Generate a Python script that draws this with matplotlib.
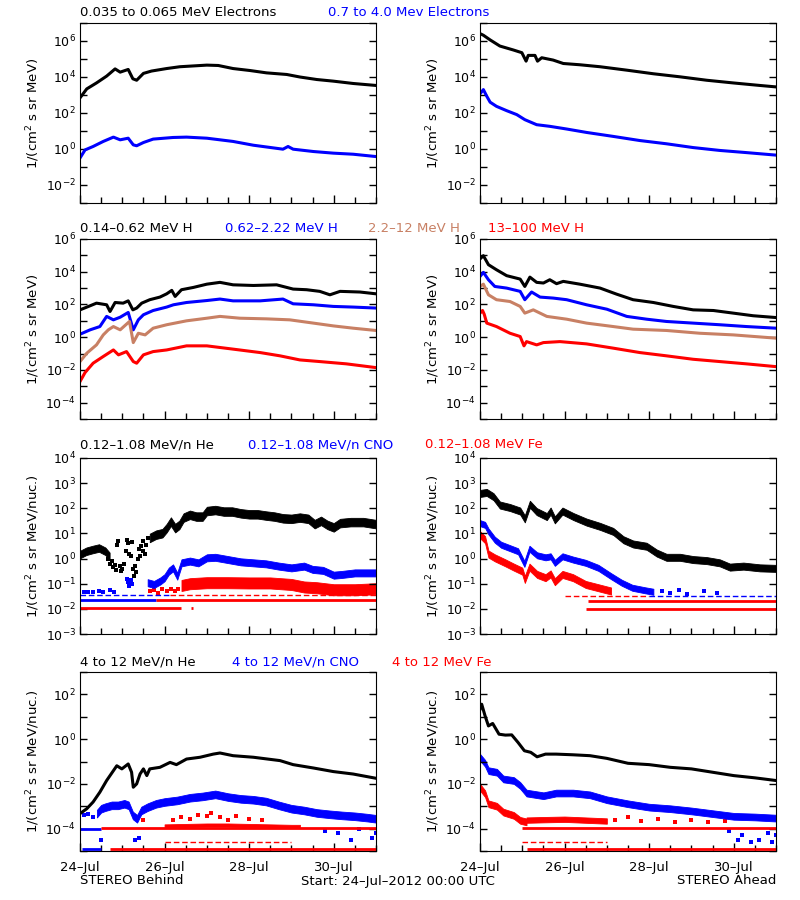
import numpy as np
import matplotlib.pyplot as plt
from matplotlib.ticker import FixedLocator, FuncFormatter, MultipleLocator, NullLocator

BROWN = '#C88064'
BLUE = '#0000FF'
RED = '#FF0000'

# ---------------- data (days since 24-Jul-2012 00:00, log10 intensity) ----------------
# Row 1: electrons
eb_lo_d = [0, 0.16, 0.39, 0.63, 0.83, 0.95, 1.14, 1.25, 1.34, 1.5, 1.69, 2.05, 2.36, 3.0, 3.27,
           3.62, 4.02, 4.41, 4.89, 5.2, 5.6, 5.99, 6.46, 7.0]
eb_lo_v = [2.84, 3.34, 3.67, 4.05, 4.45, 4.27, 4.42, 3.9, 3.82, 4.2, 4.33, 4.47, 4.57, 4.66, 4.64,
           4.47, 4.36, 4.23, 4.14, 4.0, 3.86, 3.77, 3.64, 3.53]
eb_hi_d = [0, 0.12, 0.31, 0.55, 0.79, 0.95, 1.14, 1.26, 1.34, 1.5, 1.73, 2.2, 2.52, 3.0, 3.62,
           4.1, 4.8, 4.92, 5.04, 5.52, 5.99, 6.46, 7.0]
eb_hi_v = [-0.5, -0.05, 0.14, 0.42, 0.66, 0.51, 0.6, 0.23, 0.18, 0.36, 0.55, 0.64, 0.66, 0.6, 0.42,
           0.21, -0.01, 0.14, -0.01, -0.14, -0.23, -0.29, -0.42]
ea_lo_d = [0, 0.08, 0.24, 0.47, 0.79, 0.99, 1.09, 1.14, 1.3, 1.36, 1.46, 1.73, 1.97, 2.36, 2.84,
           3.47, 4.1, 4.73, 5.36, 5.99, 6.62, 7.0]
ea_lo_v = [6.41, 6.32, 6.06, 5.72, 5.5, 5.35, 4.88, 5.2, 5.2, 4.88, 5.07, 4.94, 4.75, 4.68, 4.57,
           4.38, 4.18, 4.01, 3.82, 3.67, 3.53, 3.45]
ea_hi_d = [0, 0.08, 0.16, 0.24, 0.39, 0.63, 0.87, 1.06, 1.34, 1.65, 2.05, 2.52, 3.15, 3.78, 4.41,
           5.04, 5.67, 6.3, 7.0]
ea_hi_v = [3.06, 3.3, 2.93, 2.6, 2.37, 2.13, 1.91, 1.63, 1.35, 1.26, 1.11, 0.92, 0.7, 0.47, 0.29,
           0.08, -0.08, -0.2, -0.34]

# Row 2: protons, Behind
hb1_d = [0, 0.24, 0.39, 0.63, 0.71, 0.83, 1.02, 1.14, 1.25, 1.34, 1.46, 1.65, 1.89, 2.05, 2.17,
         2.25, 2.4, 2.68, 3.0, 3.31, 3.62, 4.1, 4.65, 5.04, 5.36, 5.67, 5.91, 6.15, 6.62, 7.0]
hb1_v = [1.67, 1.92, 2.08, 1.98, 1.57, 2.12, 2.08, 2.22, 1.67, 1.78, 2.08, 2.29, 2.45, 2.65, 2.86,
         2.49, 2.9, 3.04, 3.24, 3.35, 3.2, 3.16, 3.2, 2.94, 2.9, 2.8, 2.59, 2.8, 2.76, 2.65]
hb2_d = [0, 0.24, 0.47, 0.63, 0.79, 0.95, 1.14, 1.26, 1.38, 1.5, 1.73, 2.05, 2.21, 2.52, 3.0,
         3.31, 3.62, 4.26, 4.8, 5.04, 5.52, 5.99, 6.46, 7.0]
hb2_v = [0.18, 0.45, 0.65, 1.27, 1.06, 1.22, 1.51, 0.45, 1.06, 1.37, 1.63, 1.84, 1.98, 2.12, 2.24,
         2.33, 2.22, 2.22, 2.33, 2.04, 1.98, 1.88, 1.84, 1.78]
hb3_d = [0, 0.16, 0.39, 0.55, 0.67, 0.79, 0.95, 1.17, 1.26, 1.38, 1.54, 1.73, 2.05, 2.52, 3.0,
         3.31, 3.78, 4.41, 4.96, 5.52, 5.99, 6.46, 7.0]
hb3_v = [-1.49, -0.98, -0.47, 0.14, 0.45, 0.65, 0.45, 0.96, -0.33, 0.24, 0.14, 0.55, 0.76, 1.0,
         1.16, 1.27, 1.16, 1.12, 1.06, 0.86, 0.69, 0.55, 0.41]
hb4_d = [0, 0.12, 0.31, 0.55, 0.79, 0.91, 1.1, 1.26, 1.34, 1.5, 1.73, 2.05, 2.52, 3.0, 3.62, 4.26,
         4.73, 5.2, 5.67, 6.3, 7.0]
hb4_v = [-2.71, -2.16, -1.59, -1.18, -0.78, -1.08, -0.88, -1.49, -1.59, -1.08, -0.88, -0.78, -0.53,
         -0.53, -0.73, -0.94, -1.14, -1.39, -1.49, -1.63, -1.86]

# Row 2: protons, Ahead
ha1_d = [0, 0.08, 0.2, 0.39, 0.63, 0.95, 1.06, 1.18, 1.34, 1.5, 1.65, 1.81, 1.97, 2.36, 2.84, 3.23,
         3.62, 4.1, 4.57, 5.04, 5.52, 5.99, 6.46, 7.0]
ha1_v = [4.78, 4.98, 4.43, 4.12, 3.76, 3.55, 3.1, 3.67, 3.35, 3.31, 3.51, 3.27, 3.41, 3.24, 3.0,
         2.63, 2.29, 2.12, 1.88, 1.67, 1.63, 1.47, 1.31, 1.2]
ha2_d = [0, 0.08, 0.2, 0.35, 0.63, 0.95, 1.06, 1.22, 1.42, 1.73, 2.05, 2.52, 3.0, 3.47, 3.94, 4.41,
         5.04, 5.67, 6.3, 7.0]
ha2_v = [3.71, 3.96, 3.51, 3.1, 3.0, 2.8, 2.29, 2.76, 2.45, 2.39, 2.29, 1.98, 1.71, 1.27, 1.1, 0.96,
         0.86, 0.76, 0.65, 0.55]
ha3_d = [0, 0.08, 0.2, 0.39, 0.71, 0.95, 1.06, 1.26, 1.58, 2.05, 2.52, 3.15, 3.62, 4.41, 5.2, 5.99,
         7.0]
ha3_v = [3.1, 3.24, 2.59, 2.29, 2.18, 1.88, 1.47, 1.67, 1.27, 1.1, 0.86, 0.65, 0.49, 0.41, 0.24,
         0.14, -0.06]
ha4_d = [0, 0.06, 0.1, 0.16, 0.39, 0.71, 0.95, 1.04, 1.1, 1.34, 1.5, 1.89, 2.52, 3.15, 3.78, 4.41,
         5.04, 5.67, 6.3, 7.0]
ha4_v = [1.47, 1.63, 1.4, 0.86, 0.65, 0.24, 0.04, -0.53, -0.27, -0.47, -0.33, -0.27, -0.41, -0.67,
         -0.94, -1.14, -1.35, -1.49, -1.63, -1.8]

# Row 3: 0.12-1.08 MeV/n ions, Behind (band centres; sparse points)
heb_d = [0, 0.15, 0.3, 0.45, 0.6, 0.7]
heb_c = [0.16, 0.29, 0.36, 0.42, 0.29, 0.09]
heb2_d = [1.65, 1.8, 1.95, 2.05, 2.15, 2.25, 2.35, 2.45, 2.6, 2.75, 2.9, 3.0, 3.2, 3.4, 3.6, 3.8,
          4.0, 4.2, 4.4, 4.6, 4.8, 5.0, 5.2, 5.4, 5.55, 5.7, 5.85, 6.0, 6.15, 6.4, 6.7, 7.0]
heb2_c = [0.82, 0.95, 1.01, 1.21, 1.47, 1.21, 1.34, 1.63, 1.74, 1.67, 1.67, 1.89, 1.93, 1.87, 1.87,
          1.8, 1.76, 1.76, 1.71, 1.67, 1.6, 1.58, 1.63, 1.58, 1.37, 1.5, 1.34, 1.24, 1.41, 1.45,
          1.45, 1.37]
heb_sp_d = [0.66, 0.72, 0.75, 0.78, 0.82, 0.85, 0.87, 0.9, 0.95, 0.98, 1.0, 1.03, 1.08, 1.1, 1.13,
            1.16, 1.2, 1.22, 1.26, 1.28, 1.3, 1.33, 1.36, 1.4, 1.42, 1.45, 1.48, 1.5, 1.53, 1.57,
            1.6]
heb_sp_v = [0.0, -0.2, -0.1, -0.35, -0.25, -0.45, 0.55, 0.7, -0.3, -0.5, -0.4, -0.2, 0.3, 0.75,
            0.6, 0.2, 0.1, 0.65, -0.4, -0.7, -0.3, -0.55, 0.0, 0.4, 0.1, 0.5, 0.3, 0.7, 0.2, 0.55,
            0.8]
cnob_d = [1.6, 1.75, 1.9, 2.0, 2.1, 2.2, 2.3, 2.4, 2.6, 2.8, 3.0, 3.2, 3.5, 3.8, 4.1, 4.4, 4.7,
          5.0, 5.3, 5.5, 5.75, 6.0, 6.2, 6.5, 7.0]
cnob_c = [-0.96, -1.03, -0.89, -0.76, -0.5, -0.37, -0.7, -0.17, -0.1, -0.17, 0.03, 0.05, -0.04,
          -0.13, -0.17, -0.21, -0.3, -0.37, -0.3, -0.43, -0.47, -0.66, -0.63, -0.57, -0.57]
cnob_sp_d = [0.1, 0.2, 0.3, 0.45, 0.55, 0.7, 0.8, 1.1, 1.13, 1.17, 1.2, 1.22]
cnob_sp_v = [-1.33, -1.33, -1.33, -1.3, -1.33, -1.25, -1.33, -0.8, -0.95, -1.1, -0.85, -1.0]
feb_d = [2.4, 2.6, 3.0, 3.5, 4.0, 4.5, 5.0, 5.3, 5.6, 6.0, 6.5, 7.0]
feb_c = [-1.07, -1.0, -0.96, -0.96, -0.97, -0.97, -1.03, -1.13, -1.16, -1.24, -1.24, -1.2]
feb_sp_d = [1.65, 1.75, 1.85, 1.95, 2.05, 2.15, 2.25, 2.32]
feb_sp_v = [-1.3, -1.25, -1.35, -1.2, -1.3, -1.22, -1.28, -1.2]

# Row 3: 0.12-1.08 MeV/n ions, Ahead
hea_d = [0, 0.16, 0.32, 0.47, 0.71, 0.95, 1.06, 1.18, 1.34, 1.58, 1.67, 1.77, 1.95, 2.21, 2.52,
         2.84, 3.15, 3.39, 3.62, 3.94, 4.18, 4.41, 4.73, 5.04, 5.36, 5.67, 5.91, 6.23, 6.62, 7.0]
hea_c = [2.59, 2.63, 2.46, 2.13, 2.03, 1.89, 1.58, 2.16, 1.87, 1.67, 1.89, 1.54, 1.89, 1.67, 1.45,
         1.28, 1.08, 0.75, 0.58, 0.49, 0.22, 0.05, 0.05, -0.04, -0.08, -0.17, -0.34, -0.3, -0.37,
         -0.39]
cnoa_d = [0, 0.12, 0.2, 0.35, 0.5, 0.7, 0.9, 1.05, 1.17, 1.35, 1.55, 1.67, 1.77, 1.95, 2.2, 2.5,
          2.8, 3.1, 3.35, 3.6, 3.9, 4.1]
cnoa_c = [1.41, 1.34, 1.08, 0.75, 0.55, 0.42, 0.29, -0.21, 0.39, 0.13, 0.05, 0.09, -0.17, 0.09,
          -0.04, -0.17, -0.37, -0.7, -0.96, -1.16, -1.26, -1.32]
cnoa_sp_d = [4.3, 4.5, 4.7, 4.9, 5.3, 5.6]
cnoa_sp_v = [-1.3, -1.35, -1.25, -1.4, -1.3, -1.35]
fea_d = [0, 0.12, 0.2, 0.35, 0.6, 0.8, 1.0, 1.06, 1.17, 1.35, 1.55, 1.67, 1.77, 1.95, 2.2, 2.5,
         2.8, 3.1]
fea_c = [0.95, 0.75, 0.18, 0.03, -0.17, -0.34, -0.5, -0.83, -0.34, -0.63, -0.76, -0.61, -0.92,
         -0.63, -0.76, -1.03, -1.16, -1.29]

# Row 4: 4-12 MeV/n ions, Behind
he4b_d = [0, 0.16, 0.31, 0.47, 0.63, 0.79, 0.87, 0.99, 1.14, 1.22, 1.26, 1.34, 1.42, 1.5, 1.58,
          1.65, 1.89, 2.13, 2.28, 2.52, 2.84, 3.15, 3.31, 3.62, 4.1, 4.73, 5.04, 5.52, 5.99, 6.46,
          7.0]
he4b_v = [-3.33, -3.11, -2.81, -2.37, -1.85, -1.41, -1.19, -1.33, -1.11, -1.48, -2.15, -2.0, -1.56,
          -1.33, -1.63, -1.33, -1.26, -1.04, -1.14, -0.89, -0.81, -0.67, -0.62, -0.74, -0.81, -0.96,
          -1.14, -1.29, -1.45, -1.56, -1.75]
cno4b_d = [0.4, 0.5, 0.6, 0.75, 0.9, 1.05, 1.15, 1.25, 1.35, 1.45, 1.6, 1.8, 2.0, 2.3, 2.6, 2.9,
           3.2, 3.5, 3.8, 4.1, 4.4, 4.7, 5.0, 5.3, 5.6, 5.9, 6.2, 6.5, 6.8, 7.0]
cno4b_c = [-3.33, -3.11, -3.04, -2.96, -2.96, -2.89, -2.96, -3.41, -3.56, -3.19, -3.04, -2.89,
           -2.81, -2.74, -2.62, -2.56, -2.47, -2.59, -2.67, -2.71, -2.79, -2.96, -3.11, -3.19, -3.3,
           -3.36, -3.41, -3.45, -3.51, -3.56]
cno4b_sp_d = [0.1, 0.2, 0.3, 0.5, 1.3, 1.4, 5.8, 6.1, 6.4, 6.6, 6.9, 7.0]
cno4b_sp_v = [-3.4, -3.35, -3.5, -4.5, -4.5, -4.4, -4.1, -4.2, -4.5, -4.0, -4.4, -4.2]
fe4b_d = [2.0, 2.5, 3.0, 3.5, 4.0, 4.5, 5.0, 5.2]
fe4b_c = [-3.88, -3.86, -3.84, -3.84, -3.86, -3.88, -3.9, -3.9]
fe4b_sp_d = [1.5, 2.2, 2.4, 2.6, 2.8, 3.0, 3.1, 3.3, 3.5, 3.7, 4.0, 4.3]
fe4b_sp_v = [-3.6, -3.6, -3.5, -3.55, -3.4, -3.45, -3.3, -3.5, -3.6, -3.45, -3.55, -3.6]

# Row 4: 4-12 MeV/n ions, Ahead
he4a_d = [0, 0.04, 0.12, 0.2, 0.3, 0.45, 0.6, 0.75, 0.9, 1.05, 1.2, 1.35, 1.55, 1.8, 2.2, 2.6, 3.0,
          3.5, 4.0, 4.5, 5.0, 5.5, 6.0, 6.5, 7.0]
he4a_v = [1.33, 1.56, 1.04, 0.59, 0.7, 0.22, 0.18, 0.19, -0.15, -0.52, -0.59, -0.79, -0.67, -0.67,
          -0.7, -0.74, -0.86, -1.08, -1.14, -1.26, -1.33, -1.48, -1.63, -1.73, -1.85]
cno4a_d = [0, 0.12, 0.2, 0.4, 0.55, 0.8, 0.95, 1.1, 1.3, 1.5, 1.8, 2.2, 2.6, 3.0, 3.5, 4.0, 4.5,
           5.0, 5.5, 6.0, 6.5, 7.0]
cno4a_c = [-0.81, -1.08, -1.41, -1.48, -1.78, -1.85, -2.07, -2.41, -2.47, -2.53, -2.41, -2.41,
           -2.49, -2.71, -2.89, -3.04, -3.11, -3.21, -3.33, -3.45, -3.48, -3.53]
cno4a_sp_d = [5.9, 6.1, 6.2, 6.4, 6.6, 6.8, 6.9, 7.0]
cno4a_sp_v = [-4.1, -4.5, -4.3, -4.6, -4.5, -4.2, -4.6, -4.3]
fe4a_d = [0, 0.12, 0.2, 0.4, 0.55, 0.8, 0.95, 1.1]
fe4a_c = [-2.15, -2.44, -2.89, -3.0, -3.26, -3.41, -3.63, -3.7]
fe4a2_d = [1.1, 1.5, 2.0, 2.5, 3.0]
fe4a2_c = [-3.62, -3.6, -3.58, -3.62, -3.66]
fe4a_sp_d = [3.2, 3.5, 3.8, 4.2, 4.6, 5.0, 5.4, 5.8]
fe4a_sp_v = [-3.6, -3.5, -3.65, -3.55, -3.7, -3.6, -3.7, -3.65]

# single-count floor levels: start day, end day, log10 level, colour, dashed?
p5_fx0 = [0, 2.13, 0, 1.8, 0, 2.63]
p5_fx1 = [2.13, 7.0, 1.8, 7.0, 2.4, 2.68]
p5_flv = [-1.46, -1.46, -1.66, -1.66, -1.98, -1.98]
p5_fc = [BLUE, RED, BLUE, RED, RED, RED]
p5_fdash = [True, True, False, False, False, False]
p6_fx0 = [2.0, 4.0, 2.55, 2.5]
p6_fx1 = [4.0, 7.0, 7.0, 7.0]
p6_flv = [-1.47, -1.47, -1.67, -2.0]
p6_fc = [RED, BLUE, RED, RED]
p6_fdash = [True, True, False, False]
p7_fx0 = [0.0, 0.5, 2.0, 0.05, 0.7]
p7_fx1 = [0.5, 7.0, 5.0, 0.5, 7.0]
p7_flv = [-4.0, -3.97, -4.59, -4.89, -4.89]
p7_fc = [BLUE, RED, RED, BLUE, RED]
p7_fdash = [False, False, True, False, False]
p8_fx0 = [1.0, 1.0, 1.1]
p8_fx1 = [7.0, 3.0, 7.0]
p8_flv = [-3.96, -4.59, -4.89]
p8_fc = [RED, RED, RED]
p8_fdash = [False, True, False]

# ---------------- drawing ----------------
FS = 9
FS_T = 9.5
plt.rcParams['font.family'] = 'DejaVu Sans'
fig = plt.figure(figsize=(8, 9), dpi=100)

rows_px = [(23, 203), (239, 419), (458, 634), (672, 851)]
cols_px = [80, 480]
ylims = [(-3, 7), (-5, 6), (-3, 4), (-5, 3)]
every_decade = [False, False, True, False]
day_names = {0: '24\u2013Jul', 2: '26\u2013Jul', 4: '28\u2013Jul', 6: '30\u2013Jul'}


def make_ax(r, c):
    top, bot = rows_px[r]
    ax = fig.add_axes([cols_px[c] / 800, 1 - bot / 900, 296 / 800, (bot - top) / 900])
    ax.set_yscale('log')
    lo, hi = ylims[r]
    ax.set_ylim(10.0 ** lo, 10.0 ** hi)
    ax.set_xlim(0, 7)
    ax.yaxis.set_major_locator(FixedLocator([10.0 ** k for k in range(lo, hi + 1)]))
    ax.yaxis.set_minor_locator(NullLocator())
    all_lab = every_decade[r]

    def yfmt(v, p):
        k = int(round(np.log10(v)))
        if all_lab or k % 2 == 0:
            return '$10^{%d}$' % k
        return ''
    ax.yaxis.set_major_formatter(FuncFormatter(yfmt))
    ax.xaxis.set_major_locator(MultipleLocator(2))
    ax.xaxis.set_minor_locator(MultipleLocator(0.5))
    ax.tick_params(axis='y', which='both', direction='in', left=True, right=True,
                   length=5, width=1, labelsize=FS, pad=3)
    ax.tick_params(axis='x', which='major', direction='in', bottom=True, top=False,
                   length=6, width=1, labelsize=FS_T, pad=7)
    ax.tick_params(axis='x', which='minor', direction='in', bottom=True, top=False,
                   length=4, width=1)
    if r == 3:
        ax.xaxis.set_major_formatter(FuncFormatter(lambda v, p: day_names.get(int(round(v)), '')))
    else:
        ax.set_xticklabels([])
    ylab = '1/(cm$^2$ s sr MeV)' if r < 2 else '1/(cm$^2$ s sr MeV/nuc.)'
    fig.text((cols_px[c] - 47) / 800, 1 - (top + bot) / 2 / 900, ylab, rotation=90,
             ha='center', va='center', fontsize=FS_T)
    return ax


def line(ax, d, v, col):
    ax.plot(d, np.power(10.0, v), color=col, lw=2.2)


def band(ax, d, c, hw, col):
    c = np.asarray(c)
    ax.fill_between(d, np.power(10.0, c - hw), np.power(10.0, c + hw), color=col, lw=0.6,
                    edgecolor=col)


def dots(ax, d, v, col):
    ax.scatter(d, np.power(10.0, v), s=5, marker='s', color=col, linewidths=0)


def floors(ax, x0, x1, lv, cols, dash):
    for a, b, l, col, dsh in zip(x0, x1, lv, cols, dash):
        if dsh:
            ax.hlines(10.0 ** l, a, b, colors=col, lw=1, linestyles=(0, (4, 2)))
        else:
            ax.hlines(10.0 ** l, a, b, colors=col, lw=2)


axs = [[make_ax(r, c) for c in range(2)] for r in range(4)]

# row 1
line(axs[0][0], eb_lo_d, eb_lo_v, 'black')
line(axs[0][0], eb_hi_d, eb_hi_v, BLUE)
line(axs[0][1], ea_lo_d, ea_lo_v, 'black')
line(axs[0][1], ea_hi_d, ea_hi_v, BLUE)

# row 2
for d, v, col in [(hb1_d, hb1_v, 'black'), (hb2_d, hb2_v, BLUE), (hb3_d, hb3_v, BROWN),
                  (hb4_d, hb4_v, RED)]:
    line(axs[1][0], d, v, col)
for d, v, col in [(ha1_d, ha1_v, 'black'), (ha2_d, ha2_v, BLUE), (ha3_d, ha3_v, BROWN),
                  (ha4_d, ha4_v, RED)]:
    line(axs[1][1], d, v, col)

# row 3
ax = axs[2][0]
floors(ax, p5_fx0, p5_fx1, p5_flv, p5_fc, p5_fdash)
band(ax, feb_d, feb_c, 0.22, RED)
dots(ax, feb_sp_d, feb_sp_v, RED)
band(ax, cnob_d, cnob_c, 0.14, BLUE)
dots(ax, cnob_sp_d, cnob_sp_v, BLUE)
band(ax, heb_d, heb_c, 0.15, 'black')
dots(ax, heb_sp_d, heb_sp_v, 'black')
band(ax, heb2_d, heb2_c, 0.17, 'black')

ax = axs[2][1]
floors(ax, p6_fx0, p6_fx1, p6_flv, p6_fc, p6_fdash)
band(ax, hea_d, hea_c, 0.14, 'black')
band(ax, cnoa_d, cnoa_c, 0.12, BLUE)
dots(ax, cnoa_sp_d, cnoa_sp_v, BLUE)
band(ax, fea_d, fea_c, 0.14, RED)

# row 4
ax = axs[3][0]
floors(ax, p7_fx0, p7_fx1, p7_flv, p7_fc, p7_fdash)
band(ax, fe4b_d, fe4b_c, 0.07, RED)
dots(ax, fe4b_sp_d, fe4b_sp_v, RED)
band(ax, cno4b_d, cno4b_c, 0.17, BLUE)
dots(ax, cno4b_sp_d, cno4b_sp_v, BLUE)
line(ax, he4b_d, he4b_v, 'black')

ax = axs[3][1]
floors(ax, p8_fx0, p8_fx1, p8_flv, p8_fc, p8_fdash)
band(ax, fe4a2_d, fe4a2_c, 0.12, RED)
dots(ax, fe4a_sp_d, fe4a_sp_v, RED)
band(ax, fe4a_d, fe4a_c, 0.15, RED)
band(ax, cno4a_d, cno4a_c, 0.15, BLUE)
dots(ax, cno4a_sp_d, cno4a_sp_v, BLUE)
line(ax, he4a_d, he4a_v, 'black')

# titles
titles = [
    (13, [(80, '0.035 to 0.065 MeV Electrons', 'black'), (328, '0.7 to 4.0 Mev Electrons', BLUE)]),
    (229, [(80, '0.14\u20130.62 MeV H', 'black'), (225, '0.62\u20132.22 MeV H', BLUE),
           (368, '2.2\u201312 MeV H', BROWN), (488, '13\u2013100 MeV H', RED)]),
    (445, [(80, '0.12\u20131.08 MeV/n He', 'black'), (248, '0.12\u20131.08 MeV/n CNO', BLUE),
           (425, '0.12\u20131.08 MeV Fe', RED)]),
    (662, [(80, '4 to 12 MeV/n He', 'black'), (232, '4 to 12 MeV/n CNO', BLUE),
           (392, '4 to 12 MeV Fe', RED)]),
]
for y, items in titles:
    for x, t, col in items:
        fig.text(x / 800, 1 - y / 900, t, color=col, fontsize=FS_T, ha='left', va='center')

fig.text(80 / 800, 1 - 881 / 900, 'STEREO Behind', fontsize=FS_T, ha='left', va='center')
fig.text(398 / 800, 1 - 881 / 900, 'Start: 24\u2013Jul\u20132012 00:00 UTC', fontsize=FS_T,
         ha='center', va='center')
fig.text(776 / 800, 1 - 881 / 900, 'STEREO Ahead', fontsize=FS_T, ha='right', va='center')

fig.savefig('out.png', dpi=100, facecolor='white')
